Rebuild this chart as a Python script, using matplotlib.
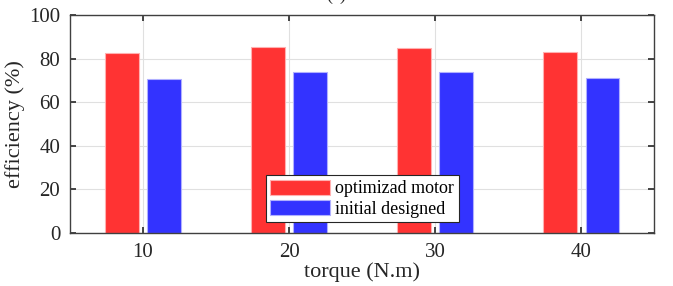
import numpy as np
import matplotlib.pyplot as plt

torque = ['10', '20', '30', '40']
optimized = [82.4, 85.3, 84.9, 83.0]
initial = [70.6, 73.9, 74.0, 71.1]

plt.rcParams['font.family'] = ['Liberation Serif', 'DejaVu Serif']

fig = plt.figure(figsize=(6.73, 2.86), dpi=100)
ax = fig.add_axes([0.104, 0.185, 0.868, 0.763])

x = np.arange(1, len(torque) + 1)
off = 0.145
w = 0.23
ax.bar(x - off, optimized, w, color='#ff3333', edgecolor='#ffb0b0', linewidth=0.8,
       label='optimizad motor', zorder=3)
ax.bar(x + off, initial, w, color='#3333ff', edgecolor='#b0b0ff', linewidth=0.8,
       label='initial designed', zorder=3)

ax.set_xlim(0.5, 4.5)
ax.set_ylim(0, 100)
ax.set_xticks(x)
ax.set_xticklabels(torque)
ax.set_yticks([0, 20, 40, 60, 80, 100])
ax.grid(True, color='#e0e0e0', linewidth=0.8, zorder=0)
ax.tick_params(direction='in', length=4, width=1.2, colors='#262626', labelsize=15,
               top=True, right=True, pad=7)
for s in ax.spines.values():
    s.set_color('#404040')
    s.set_linewidth(1.0)
    s.set_zorder(4)

ax.set_xlabel('torque (N.m)', fontsize=16, color='#262626', labelpad=0)
ax.set_ylabel('efficiency (%)', fontsize=16, color='#262626', labelpad=3)

leg = ax.legend(loc='lower center', bbox_to_anchor=(0.5, 0.0), fontsize=13,
                fancybox=False, edgecolor='#262626', framealpha=1,
                handlelength=3.3, handleheight=0.9, borderpad=0.25,
                labelspacing=0.15, handletextpad=0.3, borderaxespad=0.6)
leg.get_frame().set_linewidth(0.8)
leg.set_zorder(5)

fig.text(0.5, 1.015, '(a)', ha='center', va='center', fontsize=13, color='#262626')

fig.savefig('out.png', dpi=100)
